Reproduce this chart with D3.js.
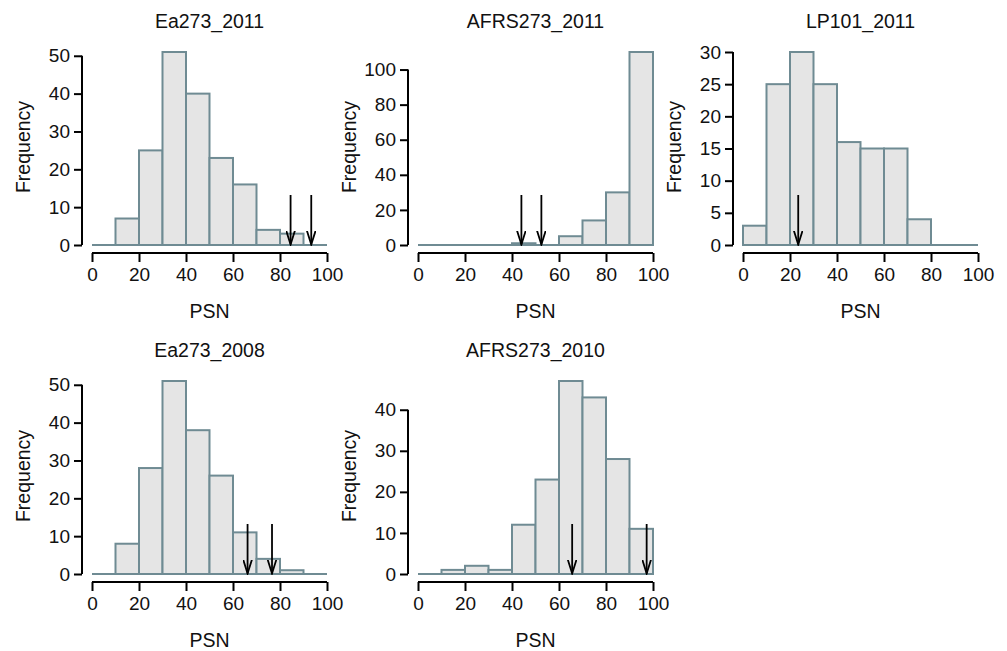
<!DOCTYPE html>
<html>
<head>
  <meta charset="utf-8">
  <title>PSN histograms</title>
  <style>
    body { margin: 0; background: #fff; }
    text { font-family: "Liberation Sans", Arial, sans-serif; fill: #111; }
  </style>
</head>
<body>
  <div id="chart"></div>
  <script src="https://cdn.jsdelivr.net/npm/d3@7"></script>
  <script>
    // bin edges shared by all panels (PSN, step 10)
    const binEdges = [0, 10, 20, 30, 40, 50, 60, 70, 80, 90, 100];
    const xTicks = [0, 20, 40, 60, 80, 100];

    const titles = ["Ea273_2011", "AFRS273_2011", "LP101_2011", "Ea273_2008", "AFRS273_2010"];

    // counts per bin
    const countsEa2011 = [0, 7, 25, 51, 40, 23, 16, 4, 3, 0];
    const countsAfrs2011 = [0, 0, 0, 0, 1, 0, 5, 14, 30, 110];
    const countsLp2011 = [3, 25, 30, 25, 16, 15, 15, 4, 0, 0];
    const countsEa2008 = [0, 8, 28, 51, 38, 26, 11, 4, 1, 0];
    const countsAfrs2010 = [0, 1, 2, 1, 12, 23, 47, 43, 28, 11];

    // arrow positions (PSN)
    const arrowsEa2011 = [84.5, 93.3];
    const arrowsAfrs2011 = [44, 52.5];
    const arrowsLp2011 = [23.5];
    const arrowsEa2008 = [66.2, 76.6];
    const arrowsAfrs2010 = [65.6, 97.3];

    // y tick labels per panel
    const yTicksEa2011 = [0, 10, 20, 30, 40, 50];
    const yTicksAfrs2011 = [0, 20, 40, 60, 80, 100];
    const yTicksLp2011 = [0, 5, 10, 15, 20, 25, 30];
    const yTicksEa2008 = [0, 10, 20, 30, 40, 50];
    const yTicksAfrs2010 = [0, 10, 20, 30, 40];

    const panels = [
      { title: titles[0], counts: countsEa2011, arrows: arrowsEa2011, yTicks: yTicksEa2011, col: 0, row: 0 },
      { title: titles[1], counts: countsAfrs2011, arrows: arrowsAfrs2011, yTicks: yTicksAfrs2011, col: 1, row: 0 },
      { title: titles[2], counts: countsLp2011, arrows: arrowsLp2011, yTicks: yTicksLp2011, col: 2, row: 0 },
      { title: titles[3], counts: countsEa2008, arrows: arrowsEa2008, yTicks: yTicksEa2008, col: 0, row: 1 },
      { title: titles[4], counts: countsAfrs2010, arrows: arrowsAfrs2010, yTicks: yTicksAfrs2010, col: 1, row: 1 }
    ];

    const W = 1007, H = 651;
    const colX = [92, 418, 743];   // pixel of PSN = 0
    const rowY = [245, 574];       // pixel of Frequency = 0
    const plotW = 235, plotH = 193;

    const barStroke = "#6f8b93", barFill = "#e5e5e5";

    const svg = d3.select("#chart").append("svg")
      .attr("width", W)
      .attr("height", H);

    // open arrow head, drawn pointing along +x and rotated with the line
    svg.append("defs").append("marker")
      .attr("id", "head")
      .attr("viewBox", "0 0 15 10")
      .attr("refX", 14).attr("refY", 5)
      .attr("markerWidth", 15).attr("markerHeight", 10)
      .attr("markerUnits", "userSpaceOnUse")
      .attr("orient", "auto")
      .append("path")
      .attr("d", "M0,0.6 L14,5 L0,9.4")
      .attr("fill", "none")
      .attr("stroke", "#000")
      .attr("stroke-width", 1.8);

    panels.forEach(p => {
      const x0 = colX[p.col], y0 = rowY[p.row];
      const maxC = d3.max(p.counts);

      const x = d3.scaleLinear().domain([0, 100]).range([x0, x0 + plotW]);
      const y = d3.scaleLinear().domain([0, maxC]).range([y0, y0 - plotH]);

      const g = svg.append("g");

      const bins = p.counts.map((c, i) => ({ x0: binEdges[i], x1: binEdges[i + 1], n: c }));

      // baseline
      g.append("line")
        .attr("x1", x(0)).attr("x2", x(100))
        .attr("y1", y(0)).attr("y2", y(0))
        .attr("stroke", barStroke).attr("stroke-width", 2);

      g.selectAll("rect.bar")
        .data(bins.filter(d => d.n > 0))
        .join("rect")
        .attr("class", "bar")
        .attr("x", d => x(d.x0))
        .attr("y", d => y(d.n))
        .attr("width", d => x(d.x1) - x(d.x0))
        .attr("height", d => y(0) - y(d.n))
        .attr("fill", barFill)
        .attr("stroke", barStroke)
        .attr("stroke-width", 2);

      // arrows
      g.selectAll("line.arrow")
        .data(p.arrows)
        .join("line")
        .attr("class", "arrow")
        .attr("x1", d => x(d)).attr("x2", d => x(d))
        .attr("y1", y0 - 50).attr("y2", y0 - 0.5)
        .attr("stroke", "#000").attr("stroke-width", 1.8)
        .attr("marker-end", "url(#head)");

      // x axis
      const xAxis = g.append("g")
        .attr("transform", `translate(0,${y0 + 8})`)
        .call(d3.axisBottom(x).tickValues(xTicks).tickSize(9).tickPadding(6).tickFormat(d3.format("d")));
      // y axis
      const yAxis = g.append("g")
        .attr("transform", `translate(${x0 - 10},0)`)
        .call(d3.axisLeft(y).tickValues(p.yTicks).tickSize(8).tickPadding(4).tickFormat(d3.format("d")));

      [xAxis, yAxis].forEach(a => {
        a.select(".domain").attr("stroke", "#000").attr("stroke-width", 2);
        a.selectAll(".tick line").attr("stroke", "#000").attr("stroke-width", 2);
        a.selectAll(".tick text").attr("font-size", 19).attr("fill", "#111")
          .style("font-family", '"Liberation Sans", Arial, sans-serif');
      });
      // R-like axis lines: no end caps outside the tick range
      xAxis.select(".domain").attr("d", `M${x(0)},0H${x(100)}`);
      yAxis.select(".domain").attr("d", `M0,${y(d3.max(p.yTicks))}V${y(0)}`);

      // title
      g.append("text")
        .attr("x", x(50)).attr("y", y0 - 217)
        .attr("text-anchor", "middle")
        .attr("font-size", 19.5)
        .text(p.title);

      // x label
      g.append("text")
        .attr("x", x(50)).attr("y", y0 + 73)
        .attr("text-anchor", "middle")
        .attr("font-size", 19.5)
        .text("PSN");

      // y label
      g.append("text")
        .attr("transform", `translate(${x0 - 62},${y0 - 98}) rotate(-90)`)
        .attr("text-anchor", "middle")
        .attr("font-size", 19.5)
        .text("Frequency");
    });
  </script>
</body>
</html>
